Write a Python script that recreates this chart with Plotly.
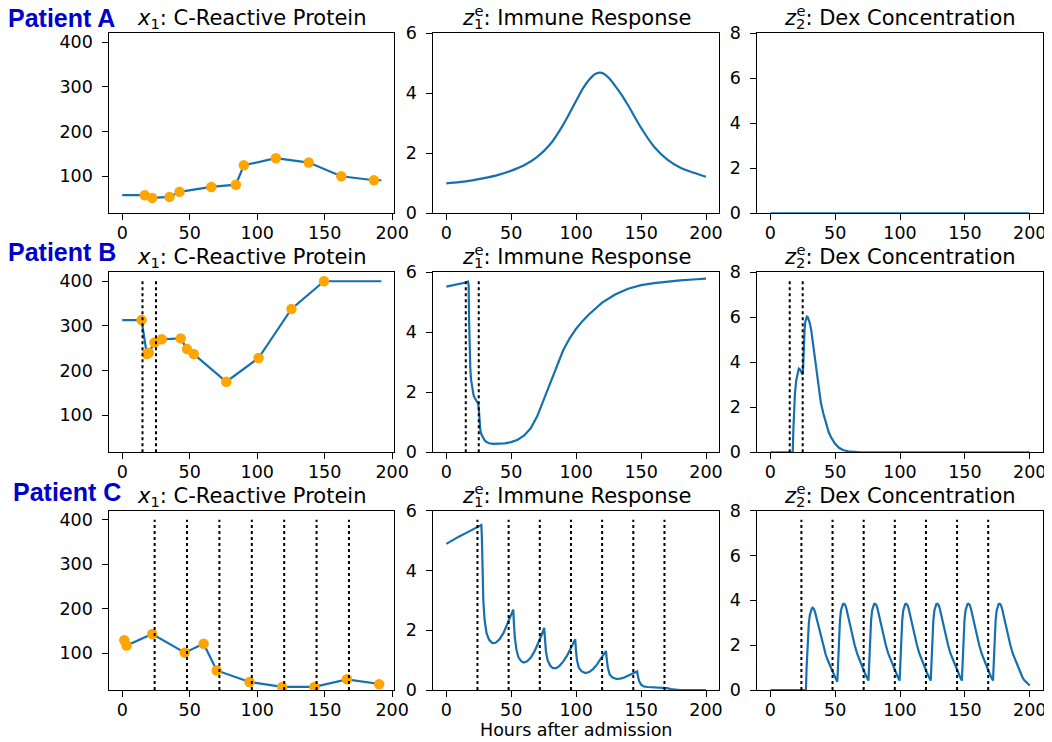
import plotly.graph_objects as go

# ---------------- data ----------------
hour_ticks = [0, 50, 100, 150, 200]
crp_ticks = [100, 200, 300, 400]
imm_ticks = [0, 2, 4, 6]
dex_ticks = [0, 2, 4, 6, 8]

patients = ["Patient A", "Patient B", "Patient C"]
crp_end = 192

# C-reactive protein measurements
a_crp_t = [16.7, 22.2, 35.0, 42.4, 66.0, 84.2, 90.1, 113.8, 138.2, 162.3, 186.5]
a_crp_y = [57.5, 51.5, 53.7, 65.0, 76.0, 81.0, 124.6, 140.3, 130.6, 100.0, 91.0]

b_crp_t = [14.3, 18.2, 19.7, 23.9, 29.3, 43.3, 48.0, 53.0, 77.1, 101.0, 125.4, 149.5]
b_crp_y = [313, 237, 240, 263, 270, 272, 248, 237, 175, 228, 338, 400]

c_crp_t = [1.5, 3.2, 22.2, 46.3, 60.3, 70.0, 94.3, 118.5, 142.4, 166.5, 190.4]
c_crp_y = [129, 117, 143, 101, 121, 61, 35, 24, 24, 41, 30]

# dose times
a_dose = []
b_dose = [15, 25]
c_dose = [24, 48, 72, 96, 120, 144, 168]

# immune response z1
a_imm_t = [0, 10, 20, 30, 40, 50, 60, 70, 80, 90, 100, 105, 110, 115, 118, 121, 125,
           130, 135, 140, 150, 160, 170, 180, 190, 200]
a_imm_y = [1.00, 1.04, 1.10, 1.18, 1.28, 1.42, 1.60, 1.88, 2.30, 2.95, 3.75, 4.15, 4.45,
           4.65, 4.69, 4.66, 4.52, 4.25, 3.95, 3.60, 2.85, 2.22, 1.80, 1.53, 1.36, 1.22]

b_imm_t = [0, 5, 10, 15, 16.7, 17.2, 17.6, 18, 18.5, 19, 20, 21, 22, 23, 24, 24.6, 25.2,
           25.6, 26.2, 27, 28, 29.5, 31, 33, 36, 40, 45, 50, 55, 60, 65, 70, 75, 80, 85,
           90, 95, 100, 105, 110, 120, 130, 140, 150, 160, 170, 180, 190, 200]
b_imm_y = [5.52, 5.56, 5.61, 5.66, 5.69, 5.60, 4.30, 3.30, 2.80, 2.45, 2.10, 1.90, 1.80,
           1.72, 1.67, 1.62, 1.35, 1.00, 0.75, 0.60, 0.50, 0.40, 0.34, 0.30, 0.28, 0.28,
           0.30, 0.34, 0.42, 0.56, 0.80, 1.20, 1.75, 2.35, 2.90, 3.40, 3.80, 4.12, 4.38,
           4.60, 4.99, 5.26, 5.45, 5.57, 5.64, 5.69, 5.73, 5.76, 5.79]

c_imm_t = [0, 5, 10, 15, 20, 25, 27, 27.4, 27.8, 28.5, 29.5, 31, 33, 35.5, 38, 41, 44, 47,
           50, 51.6, 52.1, 52.8, 54, 55.5, 57.5, 59.5, 62, 65, 68, 71, 73.5, 75.4, 75.9,
           76.7, 78, 80, 82, 84.5, 87, 90, 93, 96, 98, 99.3, 99.8, 100.6, 102, 104, 107,
           110, 113, 116, 119, 121.5, 123, 123.5, 124.4, 125.8, 128, 131, 134, 137, 140,
           143, 145.5, 147, 147.6, 148.5, 150, 152, 155, 160, 165, 170, 173, 176, 180,
           190, 200]
c_imm_y = [4.89, 5.02, 5.14, 5.25, 5.36, 5.46, 5.52, 5.10, 4.00, 3.00, 2.35, 1.90, 1.68,
           1.57, 1.58, 1.70, 1.90, 2.20, 2.50, 2.69, 2.20, 1.75, 1.35, 1.10, 0.97, 0.92,
           0.95, 1.08, 1.30, 1.58, 1.85, 2.08, 1.70, 1.30, 1.00, 0.82, 0.73, 0.73, 0.80,
           0.95, 1.15, 1.42, 1.60, 1.70, 1.35, 1.00, 0.75, 0.63, 0.57, 0.60, 0.70, 0.85,
           1.05, 1.22, 1.30, 1.05, 0.75, 0.52, 0.42, 0.37, 0.38, 0.42, 0.48, 0.55, 0.60,
           0.62, 0.45, 0.30, 0.18, 0.12, 0.10, 0.09, 0.08, 0.06, 0.03, 0.01, 0.0, 0.0, 0.0]

# dex concentration z2
a_dex_t = [0, 200]
a_dex_y = [0, 0]

b_dex_t = [0, 17.3, 17.8, 18.3, 19, 20, 21, 22, 23, 24, 24.8, 25.2, 25.8, 26.5, 27.0,
           27.6, 28.2, 28.8, 29.5, 30.3, 31.5, 33, 35, 37, 39, 41, 43, 45, 47, 50, 53, 56,
           60, 65, 70, 200]
b_dex_y = [0, 0, 1.0, 1.9, 2.6, 3.2, 3.55, 3.72, 3.68, 3.55, 3.45, 3.60, 4.70, 5.50,
           5.80, 5.97, 6.03, 6.01, 5.93, 5.78, 5.45, 4.80, 3.75, 2.85, 2.20, 1.70, 1.25,
           0.90, 0.65, 0.38, 0.20, 0.10, 0.04, 0.01, 0, 0]

c_dex_t = [0, 27.5, 28.0, 28.6, 29.7, 30.5, 31.2, 32.0, 32.7, 33.6, 34.5, 35.7, 37.1, 39.0,
           40.9, 42.8, 44.8, 46.7, 48.6, 50.2, 51.7,
           52.2, 52.7, 53.7, 54.5, 55.2, 56.0, 56.8, 57.7, 58.6, 59.8, 61.2, 63.0, 65.0,
           66.9, 68.9, 70.8, 72.7, 74.3, 75.7,
           76.2, 76.7, 77.7, 78.5, 79.2, 80.0, 80.8, 81.7, 82.6, 83.8, 85.2, 87.0, 89.0,
           90.9, 92.9, 94.8, 96.7, 98.3, 99.7,
           100.2, 100.7, 101.7, 102.5, 103.2, 104.0, 104.8, 105.7, 106.6, 107.8, 109.2,
           111.0, 113.0, 114.9, 116.9, 118.8, 120.7, 122.3, 123.7,
           124.2, 124.7, 125.7, 126.5, 127.2, 128.0, 128.8, 129.7, 130.6, 131.8, 133.2,
           135.0, 137.0, 138.9, 140.9, 142.8, 144.7, 146.3, 147.7,
           148.2, 148.7, 149.7, 150.5, 151.2, 152.0, 152.8, 153.7, 154.6, 155.8, 157.2,
           159.0, 161.0, 162.9, 164.9, 166.8, 168.7, 170.3, 171.7,
           172.2, 172.7, 173.7, 174.5, 175.2, 176.0, 176.8, 177.7, 178.6, 179.8, 181.2,
           183.0, 185.0, 186.9, 188.9, 190.8, 192.7, 194.3, 195.7, 198.0, 200.0]
c_dex_y = [0, 0, 1.00, 1.93, 2.96, 3.35, 3.56, 3.64, 3.67, 3.62, 3.48, 3.20, 2.81, 2.35,
           1.93, 1.57, 1.26, 0.98, 0.74, 0.55, 0.37,
           1.10, 1.93, 3.10, 3.55, 3.75, 3.83, 3.85, 3.80, 3.65, 3.35, 2.95, 2.45, 2.02,
           1.63, 1.32, 1.03, 0.78, 0.58, 0.42,
           1.10, 1.93, 3.10, 3.55, 3.75, 3.83, 3.85, 3.80, 3.65, 3.35, 2.95, 2.45, 2.02,
           1.63, 1.32, 1.03, 0.78, 0.58, 0.42,
           1.10, 1.93, 3.10, 3.55, 3.75, 3.83, 3.85, 3.80, 3.65, 3.35, 2.95, 2.45, 2.02,
           1.63, 1.32, 1.03, 0.78, 0.58, 0.42,
           1.10, 1.93, 3.10, 3.55, 3.75, 3.83, 3.85, 3.80, 3.65, 3.35, 2.95, 2.45, 2.02,
           1.63, 1.32, 1.03, 0.78, 0.58, 0.42,
           1.10, 1.93, 3.10, 3.55, 3.75, 3.83, 3.85, 3.80, 3.65, 3.35, 2.95, 2.45, 2.02,
           1.63, 1.32, 1.03, 0.78, 0.58, 0.42,
           1.10, 1.93, 3.10, 3.55, 3.75, 3.83, 3.85, 3.80, 3.65, 3.35, 2.95, 2.45, 2.02,
           1.63, 1.32, 1.03, 0.78, 0.58, 0.44, 0.30, 0.20]

col_titles = [
    "<i>x</i><sub>1</sub>: C-Reactive Protein",
    '<i>z</i><sub><span style="letter-spacing:-9px">1</span></sub><sup>e</sup>: Immune Response',
    '<i>z</i><sub><span style="letter-spacing:-9px">2</span></sub><sup>e</sup>: Dex Concentration',
]
x_label = "Hours after admission"

# ---------------- styling / layout (pixel positions on the page) ----------------
LINE_C = "#1570ad"
MARK_C = "#ffa500"
FONT = "DejaVu Sans"
OFF = 8                      # page margin around the figure
W, H = 1052 - OFF, 742 - OFF


def fx(px):
    return (px - OFF) / W


def fy(py):
    return 1 - (py - OFF) / H


COL_PX = [(109.3, 394.3), (433.3, 719.0), (757.3, 1042.7)]
ROW_PX = [(33.3, 213.3), (272.3, 452.3), (510.7, 690.0)]
X_DOM = [(fx(a), fx(b)) for a, b in COL_PX]
Y_DOM = [(fy(b), fy(a)) for a, b in ROW_PX]
X_RANGES = [[-9.6, 201.6], [-10, 210], [-10, 210]]
Y_RANGES = [[17, 420], [0, 6], [0, 8]]
Y_TICKS = [crp_ticks, imm_ticks, dex_ticks]

crp_data = [(a_crp_t, a_crp_y), (b_crp_t, b_crp_y), (c_crp_t, c_crp_y)]
imm_data = [(a_imm_t, a_imm_y), (b_imm_t, b_imm_y), (c_imm_t, c_imm_y)]
dex_data = [(a_dex_t, a_dex_y), (b_dex_t, b_dex_y), (c_dex_t, c_dex_y)]
doses = [a_dose, b_dose, c_dose]

fig = go.Figure()
layout = {}
shapes = []
annotations = []


def ax_name(k):
    return "" if k == 1 else str(k)


for r in range(3):
    for c in range(3):
        k = r * 3 + c + 1
        xn, yn = "x" + ax_name(k), "y" + ax_name(k)
        common = dict(showline=True, mirror=True, linecolor="black", linewidth=1,
                      ticks="outside", ticklen=6, tickwidth=1, tickcolor="black",
                      showgrid=False, zeroline=False, automargin=False,
                      tickfont=dict(family=FONT, size=17.5, color="black"))
        layout["xaxis" + ax_name(k)] = dict(common, domain=list(X_DOM[c]), anchor=yn,
                                           range=X_RANGES[c], tickvals=hour_ticks,
                                           ticklabelstandoff=-2)
        layout["yaxis" + ax_name(k)] = dict(common, domain=list(Y_DOM[r]), anchor=xn,
                                           range=Y_RANGES[c], tickvals=Y_TICKS[c],
                                           ticklabelstandoff=6)
        if c == 0:
            t, y = crp_data[r]
            fig.add_trace(go.Scatter(x=[0] + t + [crp_end], y=[y[0]] + y + [y[-1]],
                                     mode="lines", line=dict(color=LINE_C, width=2.2),
                                     xaxis=xn, yaxis=yn, showlegend=False))
            fig.add_trace(go.Scatter(x=t, y=y, mode="markers",
                                     marker=dict(color=MARK_C, size=10.5),
                                     xaxis=xn, yaxis=yn, showlegend=False))
        else:
            t, y = (imm_data if c == 1 else dex_data)[r]
            shape = "spline" if r == 0 else "linear"
            fig.add_trace(go.Scatter(x=t, y=y, mode="lines",
                                     line=dict(color=LINE_C, width=2.2, shape=shape),
                                     xaxis=xn, yaxis=yn, showlegend=False))
        for d in doses[r]:
            shapes.append(dict(type="line", xref=xn, yref=yn + " domain", x0=d, x1=d,
                               y0=0, y1=0.95, line=dict(color="black", width=2, dash="dot")))
        annotations.append(dict(text=col_titles[c], xref="paper", yref="paper",
                                x=(X_DOM[c][0] + X_DOM[c][1]) / 2, y=Y_DOM[r][1],
                                xanchor="center", yanchor="bottom", yshift=-1,
                                showarrow=False,
                                font=dict(family=FONT, size=21, color="black")))

label_pos = [(8, 17.5), (8, 252.2), (13, 492.2)]
for r in range(3):
    px, py = label_pos[r]
    annotations.append(dict(text="<b>" + patients[r] + "</b>", xref="paper", yref="paper",
                            x=fx(px), y=fy(py), xanchor="left", yanchor="middle",
                            borderpad=0, borderwidth=0, showarrow=False,
                            font=dict(family="Liberation Sans", size=25, color="#0000cc")))

annotations.append(dict(text=x_label, xref="paper", yref="paper",
                        x=(X_DOM[1][0] + X_DOM[1][1]) / 2, y=fy(729.5),
                        xanchor="center", yanchor="middle", showarrow=False,
                        font=dict(family=FONT, size=17.5, color="black")))

fig.update_layout(**layout)
fig.update_layout(width=W, height=H,
                  margin=dict(l=0, r=0, t=0, b=0, pad=0, autoexpand=False),
                  paper_bgcolor="white", plot_bgcolor="white",
                  shapes=shapes, annotations=annotations,
                  font=dict(family=FONT, color="black"))
fig.write_html("out.html")
